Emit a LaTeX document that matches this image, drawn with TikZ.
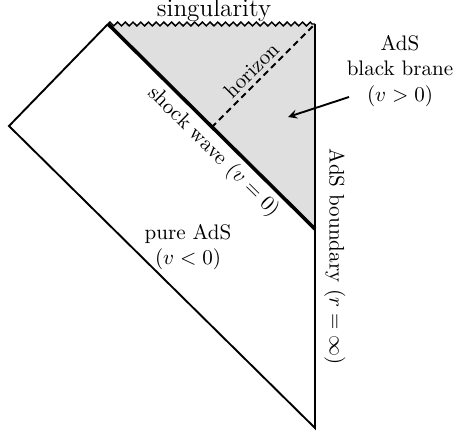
\documentclass[tikz,border=0pt]{standalone}
\usetikzlibrary{decorations.pathmorphing}

\begin{document}
\begin{tikzpicture}[
      x=0.475pt, y=-0.475pt,
      edge/.style={line width=0.9pt, line join=miter},
      shock/.style={line width=1.7pt},
      horizon/.style={densely dashed, line width=0.9pt},
      sing/.style={decorate, decoration={zigzag, segment length=3.66pt, amplitude=0.9pt}, line width=0.7pt},
      label/.style={align=center, inner sep=1pt},
      arrow/.style={->, >=stealth, line width=0.9pt}
    ]
    \useasboundingbox (0,0) rectangle (455,436);

    % Corners of the Penrose diagram
    \coordinate (topleft) at (108,24);
    \coordinate (topright) at (315,24);
    \coordinate (left) at (9,126);
    \coordinate (bottom) at (315,428);
    \coordinate (shockend) at (315,229);
    \coordinate (hmeet) at (211.5,127.5);

    % Black brane region
    \fill[gray!25] (topleft) -- (topright) -- (shockend) -- cycle;

    % Boundaries
    \draw[edge] (topleft) -- (left) -- (bottom) -- (topright);
    \draw[sing] (topleft) -- (topright);

    % Shock wave and horizon
    \draw[shock] (topleft) -- node[pos=0.567, sloped, below, inner sep=2pt] {shock wave ($v=0$)} (shockend);
    \draw[horizon] (hmeet) -- node[pos=0.47, sloped, above, inner sep=2pt] {horizon} (topright);

    % Labels
    \node[label, font=\large] (sing) at (214,10) {singularity};
    \node[label] (brane) at (400,71) {AdS\\black brane\\($v>0$)};
    \node[label] (pure) at (188,247) {pure AdS\\($v<0$)};
    \node[label, rotate=-90] (bdry) at (335,257) {AdS boundary ($r=\infty$)};

    % Arrow into the black brane region
    \coordinate (tail) at (349,97);
    \coordinate (tip) at (288,117);
    \draw[arrow] (tail) -- (tip);

  \end{tikzpicture}
\end{document}
